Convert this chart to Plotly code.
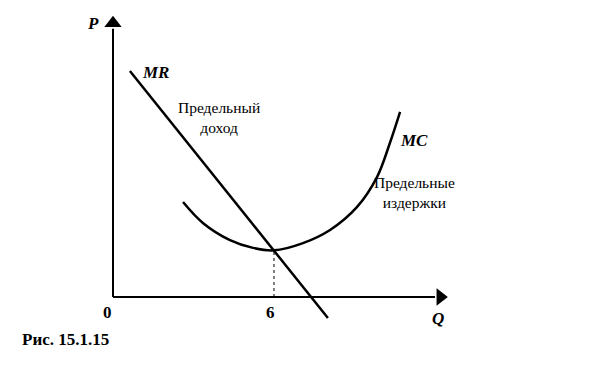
import plotly.graph_objects as go

# Marginal revenue (straight line)
mr_q = [0.63, 8.01]
mr_p = [8.42, -0.78]

# Marginal cost (U-shaped curve)
mc_q = [2.61, 3.35, 4.36, 5.22, 6.0, 7.08, 8.09, 9.09, 9.84, 10.32, 10.70]
mc_p = [3.54, 2.76, 2.12, 1.83, 1.74, 2.01, 2.50, 3.35, 4.47, 5.74, 6.90]

q_opt = 6
p_opt = 1.74
q_max = 12.0
p_max = 10.0

FONT = "Liberation Serif, DejaVu Serif, Times New Roman, serif"

# page body adds an 8px margin; pixels per data unit
PX = 26.83
OX, OY = 113 - 8, 297 - 8   # origin position inside the figure
W, H = 592, 367

fig = go.Figure()

# axes
fig.add_trace(go.Scatter(x=[0, 0], y=[0, p_max], mode="lines",
                         line=dict(color="black", width=2), hoverinfo="skip"))
fig.add_trace(go.Scatter(x=[0, q_max], y=[0, 0], mode="lines",
                         line=dict(color="black", width=2), hoverinfo="skip"))
fig.add_trace(go.Scatter(x=[0], y=[p_max + 0.2], mode="markers",
                         marker=dict(symbol="triangle-up", size=15, color="black"),
                         hoverinfo="skip"))
fig.add_trace(go.Scatter(x=[q_max + 0.2], y=[0], mode="markers",
                         marker=dict(symbol="triangle-right", size=15, color="black"),
                         hoverinfo="skip"))

# dotted guide
fig.add_trace(go.Scatter(x=[q_opt, q_opt], y=[0, p_opt], mode="lines",
                         line=dict(color="black", width=1, dash="dot"), hoverinfo="skip"))

# curves
fig.add_trace(go.Scatter(x=mr_q, y=mr_p, mode="lines",
                         line=dict(color="black", width=2.5)))
fig.add_trace(go.Scatter(x=mc_q, y=mc_p, mode="lines",
                         line=dict(color="black", width=2.5, shape="spline", smoothing=1.0)))

def txt(x, y, s, size=14, **kw):
    fig.add_annotation(x=x, y=y, text=s, showarrow=False,
                       font=dict(family=FONT, size=size, color="black"), **kw)

txt(-0.75, 10.21, "<b><i>P</i></b>", size=17)
txt(1.6, 8.35, "<b><i>MR</i></b>", size=17)
txt(3.95, 6.68, "Предельный<br>доход", size=15.5)
txt(11.22, 5.85, "<b><i>MC</i></b>", size=17)
txt(11.25, 3.90, "Предельные<br>издержки", size=15.5)
txt(-0.19, -0.56, "<b>0</b>", size=17)
txt(q_opt, -0.56, "<b>6</b>", size=17, xshift=-3)
txt(12.11, -0.8, "<b><i>Q</i></b>", size=17)

fig.add_annotation(x=12 / W, y=1 - 343 / H, xref="paper", yref="paper",
                   xanchor="left", text="<b>Рис. 15.1.15</b>", showarrow=False,
                   font=dict(family=FONT, size=17, color="black"))

fig.update_layout(
    width=W, height=H,
    margin=dict(l=0, r=0, t=0, b=0),
    paper_bgcolor="white", plot_bgcolor="white",
    showlegend=False,
    xaxis=dict(range=[-OX / PX, (W - OX) / PX], visible=False, fixedrange=True),
    yaxis=dict(range=[-(H - OY) / PX, OY / PX], visible=False, fixedrange=True),
)

fig.write_html("out.html")
